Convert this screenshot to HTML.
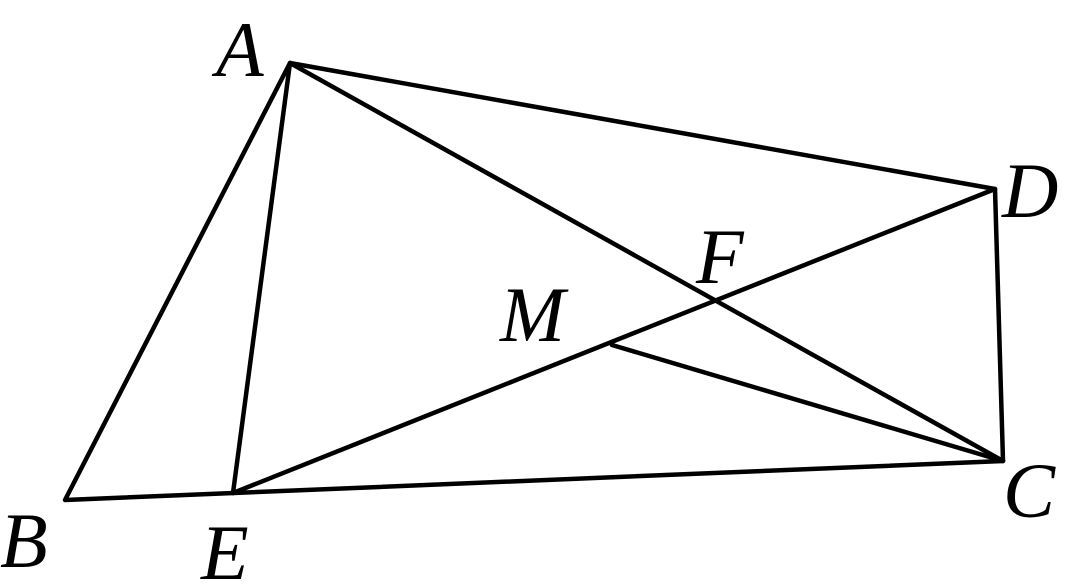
<!DOCTYPE html>
<html><head><meta charset="utf-8"><style>
html,body{margin:0;padding:0;background:#fff;width:1080px;height:586px;overflow:hidden}
text{font-family:"Liberation Serif",serif;font-style:italic;font-size:78px;fill:#000}
</style></head><body>
<svg width="1080" height="586" viewBox="0 0 1080 586" xmlns="http://www.w3.org/2000/svg">
<g stroke="#000" stroke-width="4.5" fill="none" stroke-linecap="round" stroke-linejoin="round">
<polyline points="65,500 290,63 995,189 1003,461 65,500"/>
<line x1="290" y1="63" x2="233" y2="493"/>
<line x1="290" y1="63" x2="1003" y2="461"/>
<line x1="233" y1="493" x2="995" y2="189"/>
<line x1="612" y1="345" x2="1003" y2="461"/>
</g>
<text x="216" y="76">A</text>
<text x="1002" y="217">D</text>
<text x="696" y="283">F</text>
<text x="500" y="341">M</text>
<text x="0" y="567">B</text>
<text x="201" y="579">E</text>
<text x="1003" y="517">C</text>
</svg>
</body></html>
